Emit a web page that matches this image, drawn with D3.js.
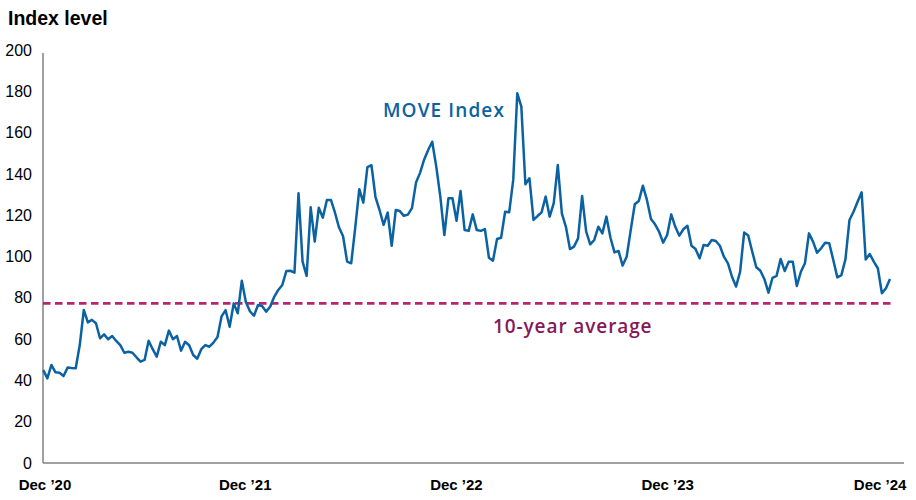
<!DOCTYPE html>
<html>
<head>
<meta charset="utf-8">
<script src="https://cdn.jsdelivr.net/npm/d3@7"></script>
<style>
  body { margin: 0; background: #fff; }
  svg { display: block; font-family: "Liberation Sans", Arial, sans-serif; }
</style>
</head>
<body>
<svg id="chart" width="916" height="500"></svg>
<script>
// weekly MOVE index readings, first week ending 18 Dec 2020
const firstWeek = new Date(2020, 11, 18);
const moveValues = [
  45.0, 41.0, 47.5, 43.9, 43.7, 42.1, 46.2, 46.0, 45.9, 57.1,
  74.1, 68.1, 69.3, 67.7, 60.4, 62.3, 59.9, 61.5, 59.1, 57.1,
  53.4, 53.9, 53.4, 51.2, 49.1, 49.9, 59.2, 55.1, 51.5, 58.7,
  57.1, 64.1, 59.9, 61.5, 54.4, 58.7, 57.0, 52.3, 50.5, 55.1,
  57.1, 56.3, 58.3, 61.0, 71.0, 74.0, 66.0, 77.3, 72.5, 88.3,
  78.0, 73.5, 71.3, 76.5, 76.0, 73.3, 75.7, 80.5, 83.8, 86.2,
  93.0, 93.1, 92.2, 130.6, 97.5, 90.6, 123.8, 107.2, 123.6, 118.8,
  127.4, 127.4, 121.2, 114.0, 109.8, 97.5, 96.7, 114.0, 132.6, 126.1,
  143.3, 144.2, 128.8, 122.5, 115.3, 121.3, 105.2, 122.5, 122.0, 119.7,
  120.3, 123.4, 135.8, 140.5, 146.9, 151.6, 155.6, 143.5, 129.0, 110.4,
  128.2, 128.2, 117.3, 131.7, 112.8, 112.4, 120.4, 112.8, 112.4, 113.3,
  99.4, 98.0, 108.5, 109.1, 121.7, 121.4, 137.1, 179.0, 172.6, 135.0,
  137.9, 117.7, 119.6, 121.4, 129.0, 119.3, 125.8, 144.3, 120.9, 114.4,
  103.6, 104.8, 108.8, 129.3, 112.0, 105.9, 108.0, 114.4, 111.2, 119.3,
  109.1, 102.0, 102.7, 95.6, 99.9, 112.8, 125.3, 126.9, 134.3, 127.4,
  118.2, 115.6, 112.0, 106.7, 110.4, 120.4, 114.4, 110.1, 113.2, 114.9,
  105.2, 103.6, 99.1, 105.6, 105.2, 108.0, 107.5, 105.2, 99.9, 96.7,
  90.2, 85.4, 92.6, 111.6, 110.2, 102.3, 94.8, 93.1, 89.0, 82.5,
  89.7, 90.6, 98.8, 93.0, 97.5, 97.5, 85.7, 92.6, 96.7, 111.2,
  107.2, 101.8, 104.0, 106.7, 106.4, 98.3, 89.9, 91.0, 98.6, 117.7,
  121.7, 126.5, 131.1, 98.6, 101.2, 97.5, 94.3, 82.2, 84.6, 89.1
];
const tenYearAverage = 77.3;

const tickDates = [new Date(2020, 11, 20), new Date(2021, 11, 1), new Date(2022, 11, 1),
  new Date(2023, 11, 1), new Date(2024, 11, 2)];
const tickLabels = ["Dec \u201920", "Dec \u201921", "Dec \u201922", "Dec \u201923", "Dec \u201924"];
const yTicks = [0, 20, 40, 60, 80, 100, 120, 140, 160, 180, 200];

const data = moveValues.map((v, i) => ({ date: d3.timeWeek.offset(firstWeek, i), value: v }));

const svg = d3.select("#chart");

const x = d3.scaleTime()
  .domain([firstWeek, data[data.length - 1].date])
  .range([43.3, 890]);

const y = d3.scaleLinear()
  .domain([0, 200])
  .range([463, 50]);

// y axis labels
svg.append("g")
  .attr("transform", "translate(43,0)")
  .call(d3.axisLeft(y).tickValues(yTicks).tickSize(0).tickPadding(11))
  .call(g => g.select(".domain").remove())
  .call(g => g.selectAll("text")
    .attr("font-size", 16)
    .attr("font-family", "Liberation Sans, Arial, sans-serif")
    .attr("fill", "#000"));

// x axis labels
svg.append("g")
  .attr("transform", "translate(0,463)")
  .call(d3.axisBottom(x).tickValues(tickDates).tickSize(0).tickPadding(16)
    .tickFormat((d, i) => tickLabels[i]))
  .call(g => g.select(".domain").remove())
  .call(g => g.selectAll("text")
    .attr("font-size", 15)
    .attr("font-weight", "bold")
    .attr("font-family", "Liberation Sans, Arial, sans-serif")
    .attr("fill", "#000"));

// axis lines
svg.append("line")
  .attr("x1", 43).attr("x2", 43)
  .attr("y1", y(0)).attr("y2", y(198.5))
  .attr("stroke", "#808080").attr("stroke-width", 1.5);
svg.append("line")
  .attr("x1", 43).attr("x2", 904)
  .attr("y1", y(0)).attr("y2", y(0))
  .attr("stroke", "#808080").attr("stroke-width", 1.5);

// 10-year average
svg.append("line")
  .attr("x1", 43).attr("x2", 892)
  .attr("y1", y(tenYearAverage)).attr("y2", y(tenYearAverage))
  .attr("stroke", "#b8246f")
  .attr("stroke-width", 2.8)
  .attr("stroke-dasharray", "7.5,4.5");

// the line
svg.append("path")
  .datum(data)
  .attr("fill", "none")
  .attr("stroke", "#0b62a3")
  .attr("stroke-width", 2.5)
  .attr("stroke-linejoin", "round")
  .attr("d", d3.line()
    .x(d => x(d.date))
    .y(d => y(d.value)));

svg.append("text")
  .attr("x", 8).attr("y", 25)
  .attr("font-size", 19.5)
  .attr("font-weight", "bold")
  .attr("fill", "#000")
  .text("Index level");

svg.append("text")
  .attr("x", 383).attr("y", 117)
  .attr("font-family", "Open Sans, sans-serif")
  .attr("font-size", 19)
  .attr("font-weight", 600)
  .attr("letter-spacing", 1.1)
  .attr("fill", "#0b62a3")
  .text("MOVE Index");

svg.append("text")
  .attr("x", 493).attr("y", 333)
  .attr("font-family", "Open Sans, sans-serif")
  .attr("font-size", 19)
  .attr("font-weight", 600)
  .attr("letter-spacing", 0.9)
  .attr("fill", "#86195a")
  .text("10-year average");
</script>
</body>
</html>
